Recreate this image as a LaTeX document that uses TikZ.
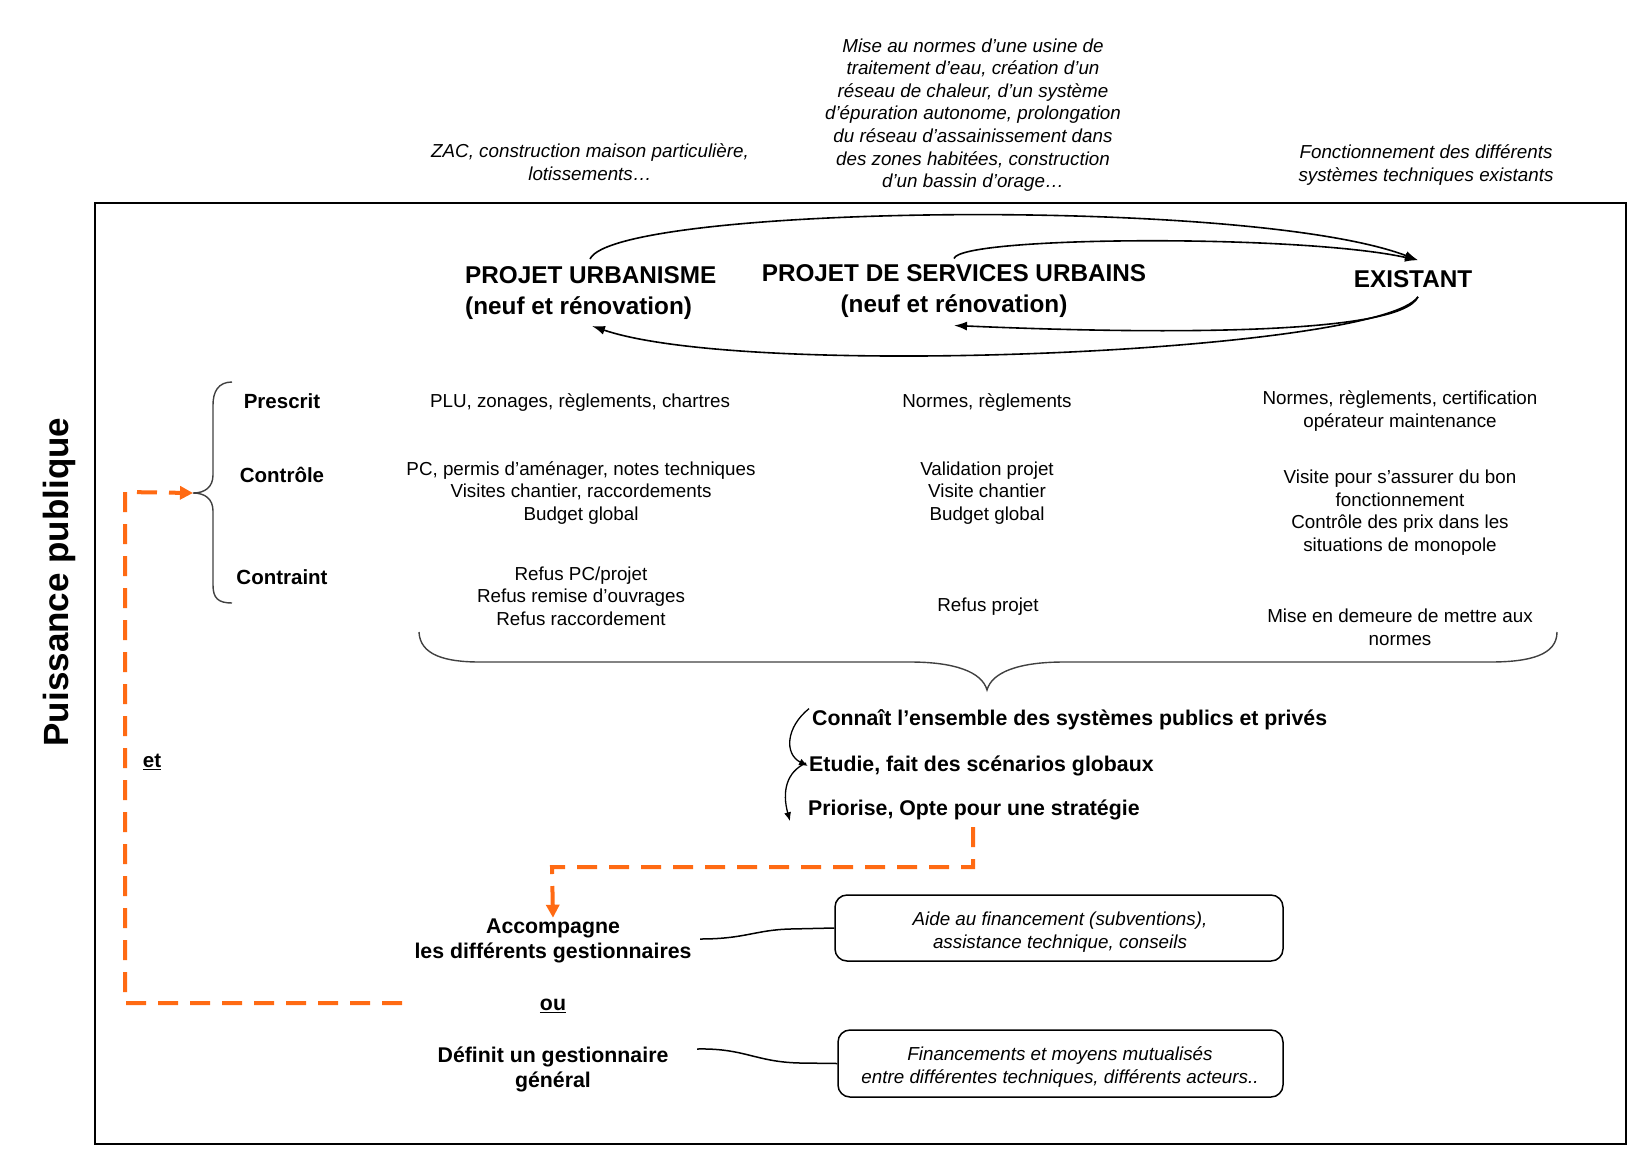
\documentclass[tikz,border=0pt]{standalone}
\usepackage{fontspec}
\setmainfont{Liberation Sans}
\usetikzlibrary{arrows.meta}
\definecolor{orng}{RGB}{255,106,19}
\begin{document}
\begin{tikzpicture}[x=1pt,y=-1pt,
 every node/.style={inner sep=0pt, align=center},
 ttl/.style={font=\fontsize{24.3}{30.5}\selectfont\bfseries},
 lbl/.style={font=\fontsize{20.5}{24}\selectfont\bfseries},
 txt/.style={font=\fontsize{18.8}{22.6}\selectfont},
 itx/.style={font=\fontsize{18.8}{22.6}\selectfont\itshape},
 mid/.style={font=\fontsize{21.3}{25}\selectfont\bfseries},
 arc/.style={line width=1.6pt, -{Latex[length=13pt,width=9pt]}},
 brc/.style={line width=1.4pt, draw=black!75},
 odash/.style={draw=orng, line width=4pt, dash pattern=on 20pt off 12pt, -{Triangle[length=13pt,width=13pt,fill=orng]}},
 rbox/.style={draw, rounded corners=12pt, line width=1.5pt, inner sep=0pt},
 wav/.style={line width=1.5pt}
]
\useasboundingbox (0,0) rectangle (1635,1160);
% frame
\draw[line width=2pt] (95,203) rectangle (1626,1144);
% side title
\node[rotate=90, font=\fontsize{35}{40}\selectfont\bfseries] (pp) at (59,582) {Puissance publique};
% top italic notes
\node[itx] (zac) at (590,162) {ZAC, construction maison particulière,\\lotissements…};
\node[itx] (mise) at (973,115) {Mise au normes d’une usine de\\traitement d’eau, création d’un\\réseau de chaleur, d’un système\\d’épuration autonome, prolongation\\du réseau d’assainissement dans\\des zones habitées, construction\\d’un bassin d’orage…};
\node[itx] (fonc) at (1426,165) {Fonctionnement des différents\\systèmes techniques existants};
% titles
\node[ttl, align=left, anchor=west] (pu) at (465,293) {PROJET URBANISME\\(neuf et rénovation)};
\node[ttl] (psu) at (954,291) {PROJET DE SERVICES URBAINS\\(neuf et rénovation)};
\node[ttl] (ex) at (1413,279) {EXISTANT};
% arcs
\coordinate (puT) at (590,259);
\coordinate (puB) at (592,326);
\draw[arc] (puT) .. controls (615,205) and (1250,196) .. ([xshift=5pt,yshift=10pt]ex.north);
\draw[arc] ([yshift=6pt]psu.north) .. controls (960,236) and (1300,234) .. ([xshift=5pt,yshift=10pt]ex.north);
\draw[arc] ([xshift=5pt,yshift=-9pt]ex.south) .. controls (1400,336) and (1150,334) .. ([yshift=-8pt]psu.south);
\draw[arc] ([xshift=5pt,yshift=-9pt]ex.south) .. controls (1380,352) and (750,380) .. (puB);
% left labels
\node[lbl] (pres) at (282,401) {Prescrit};
\node[lbl] (ctrl) at (282,475) {Contrôle};
\node[lbl] (ctrt) at (282,577) {Contraint};
% left brace
\coordinate (lbtip) at (193,493);
\draw[brc] (232,382) .. controls (218,382) and (213,392) .. (213,405) -- (213,475) .. controls (213,487) and (205,493) .. (lbtip) .. controls (205,493) and (213,499) .. (213,511) -- (213,585) .. controls (213,598) and (218,603) .. (232,603);
% columns
\node[txt] (c1a) at (580,403) {PLU, zonages, règlements, chartres};
\node[txt] (c1b) at (581,493) {PC, permis d’aménager, notes techniques\\Visites chantier, raccordements\\Budget global};
\node[txt] (c1c) at (581,596) {Refus PC/projet\\Refus remise d’ouvrages\\Refus raccordement};
\node[txt] (c2a) at (987,403) {Normes, règlements};
\node[txt] (c2b) at (987,493) {Validation projet\\Visite chantier\\Budget global};
\node[txt] (c2c) at (988,607) {Refus projet};
\node[txt] (c3a) at (1400,411) {Normes, règlements, certification\\opérateur maintenance};
\node[txt] (c3b) at (1400,512.5) {Visite pour s’assurer du bon\\fonctionnement\\Contrôle des prix dans les\\situations de monopole};
\node[txt] (c3c) at (1400,627) {Mise en demeure de mettre aux\\normes};
% big brace
\draw[brc] (419,632) .. controls (420,655) and (445,662) .. (480,662) -- (910,662) .. controls (955,662) and (982,672) .. (987,690) .. controls (992,672) and (1019,662) .. (1064,662) -- (1490,662) .. controls (1530,662) and (1557,655) .. (1557,632);
% middle steps
\node[mid, anchor=west] (con) at (812,720) {Connaît l’ensemble des systèmes publics et privés};
\node[mid, anchor=west] (etu) at (809,766) {Etudie, fait des scénarios globaux};
\node[mid, anchor=west] (pri) at (808,810) {Priorise, Opte pour une stratégie};
\draw[line width=1.3pt, -{Latex[length=9pt,width=7pt]}] ([xshift=-3pt,yshift=1pt]con.north west) .. controls (786,727) and (784,754) .. ([xshift=-1pt]etu.west);
\draw[line width=1.3pt, -{Latex[length=9pt,width=7pt]}] ([xshift=-3pt,yshift=3pt]etu.west) .. controls (786,772) and (782,792) .. ([xshift=-18pt,yshift=-1pt]pri.south west);
% bottom
\node[mid] (acc) at (553,941) {Accompagne\\les différents gestionnaires};
\node[mid] (ou) at (553,1006) {\underline{ou}};
\node[mid] (def) at (553,1069) {Définit un gestionnaire\\général};
\node[lbl] (et) at (152,762) {\underline{et}};
\node[rbox, minimum width=448pt, minimum height=66pt] (b1) at (1059,928) {};
\node[itx] (b1t) at (1060,932) {Aide au financement (subventions),\\assistance technique, conseils};
\node[rbox, minimum width=445pt, minimum height=67pt] (b2) at (1060.5,1063.5) {};
\node[itx] (b2t) at (1060,1067) {Financements et moyens mutualisés\\entre différentes techniques, différents acteurs..};
\coordinate (accR) at (700,939);
\coordinate (defR) at (697,1049);
\draw[wav] (accR) .. controls (745,939) and (755,930) .. (790,929) -- (b1.west);
\draw[wav] (defR) .. controls (745,1048) and (755,1062) .. (800,1063) -- (b2.west);
% orange dashed connectors
\coordinate (etstart) at (402,1003);
\draw[odash] (etstart) -- (125,1003) -- (125,492) -- (lbtip);
\coordinate (pristart) at (973,827);
\draw[odash] (pristart) -- (973,867) -- (552,867) -- ([yshift=1pt]acc.north);
\end{tikzpicture}
\end{document}
